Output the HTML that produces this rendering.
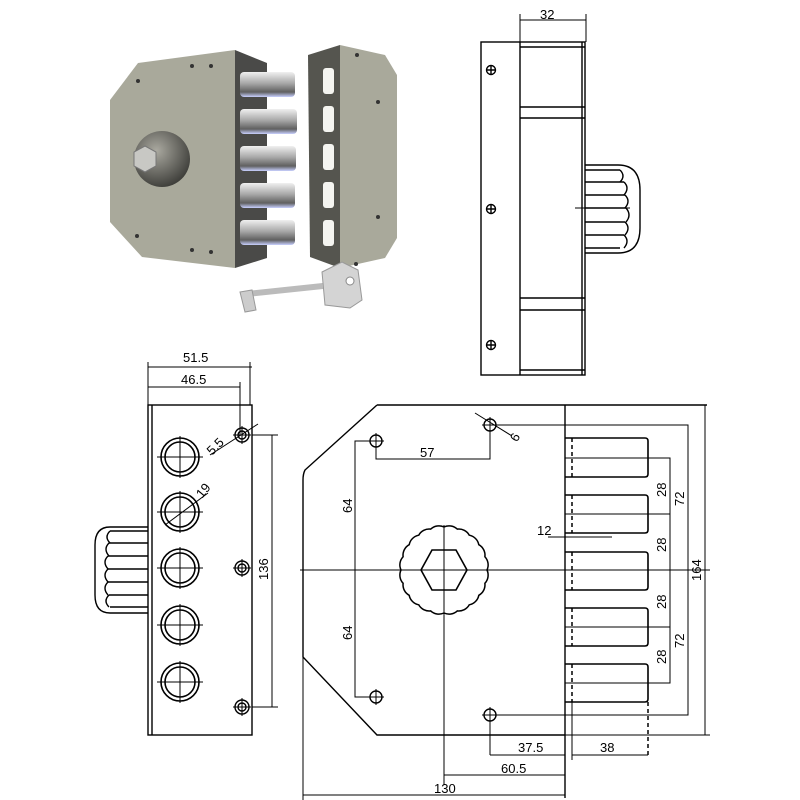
<!DOCTYPE html>
<html><head><meta charset="utf-8"><style>
html,body{margin:0;padding:0;background:#fff}
svg{display:block}
text{font-family:"Liberation Sans",sans-serif;font-size:13px;fill:#000}
</style></head><body>
<svg width="800" height="800" viewBox="0 0 800 800" xmlns="http://www.w3.org/2000/svg">
<defs>
<linearGradient id="bolt" x1="0" y1="0" x2="0" y2="1">
<stop offset="0" stop-color="#f0f0f0"/><stop offset="0.45" stop-color="#a8a8a8"/><stop offset="0.8" stop-color="#606060"/><stop offset="1" stop-color="#c8d0ff"/></linearGradient>
<radialGradient id="knob" cx="0.4" cy="0.35" r="0.7"><stop offset="0" stop-color="#aaa9a0"/><stop offset="1" stop-color="#3a3a36"/></radialGradient>
</defs>
<polygon points="110,100 138,63 235,50 235,268 142,257 110,222" fill="#a9a99b"/>
<polygon points="235,50 267,63 267,258 235,268" fill="#4a4a48"/>
<g fill="url(#bolt)">
<rect x="240" y="72" width="55" height="25" rx="4"/>
<rect x="240" y="109" width="57" height="25" rx="4"/>
<rect x="240" y="146" width="56" height="25" rx="4"/>
<rect x="240" y="183" width="55" height="25" rx="4"/>
<rect x="240" y="220" width="55" height="25" rx="4"/>
</g>
<circle cx="162" cy="159" r="28" fill="url(#knob)"/>
<polygon points="145,146 156,152 156,166 145,172 134,166 134,152" fill="#c8c8c4" stroke="#777"/>
<polygon points="308,55 340,45 340,268 310,257" fill="#55554f"/>
<polygon points="340,45 385,55 397,75 397,238 385,258 340,268" fill="#a9a99b"/>
<g fill="#f4f4f0"><rect x="323" y="68" width="11" height="26" rx="3"/><rect x="323" y="106" width="11" height="26" rx="3"/><rect x="323" y="144" width="11" height="26" rx="3"/><rect x="323" y="182" width="11" height="26" rx="3"/><rect x="323" y="220" width="11" height="26" rx="3"/></g>
<g fill="#333"><circle cx="138" cy="81" r="2"/><circle cx="192" cy="66" r="2"/><circle cx="211" cy="66" r="2"/><circle cx="137" cy="236" r="2"/><circle cx="192" cy="250" r="2"/><circle cx="211" cy="252" r="2"/><circle cx="357" cy="55" r="2"/><circle cx="378" cy="102" r="2"/><circle cx="378" cy="217" r="2"/><circle cx="356" cy="264" r="2"/></g>
<rect x="248" y="287" width="75" height="6" fill="#bbb" transform="rotate(-6 285 290)"/>
<polygon points="240,292 252,290 256,310 245,312" fill="#ccc" stroke="#999"/>
<polygon points="322,272 342,262 358,270 362,300 350,308 325,305" fill="#d4d4d4" stroke="#999"/>
<circle cx="350" cy="281" r="4" fill="#fff" stroke="#888"/>

<g fill="none" stroke="#000" stroke-width="1.4">
<rect x="481" y="42" width="104" height="333"/>
<line x1="520" y1="42" x2="520" y2="375"/>
<line x1="582" y1="42" x2="582" y2="375"/>
<line x1="520" y1="47" x2="585" y2="47"/><line x1="520" y1="107" x2="585" y2="107"/><line x1="520" y1="118" x2="585" y2="118"/>
<line x1="520" y1="298" x2="585" y2="298"/><line x1="520" y1="310" x2="585" y2="310"/><line x1="520" y1="370" x2="585" y2="370"/>
<path d="M585,165 H618 Q640,165 640,190 V228 Q640,253 618,253 H585"/>
<path d="M585,170 H620 M585,182 H624 M585,195 H625 M585,208 H626 M585,222 H625 M585,235 H624 M585,248 H620"/>
<path d="M620,170 q6,6 0,12 M624,182 q6,6 0,13 M625,195 q6,6 0,13 M626,208 q6,7 0,14 M625,222 q6,6 0,13 M624,235 q6,6 0,13"/>
<line x1="575" y1="208" x2="630" y2="208" stroke-width="1"/>
<circle cx="491" cy="70" r="4.5"/><circle cx="491" cy="209" r="4.5"/><circle cx="491" cy="345" r="4.5"/>
<path d="M486,70h10M491,65v10M486,209h10M491,204v10M486,345h10M491,340v10"/>
<line x1="520" y1="14" x2="520" y2="42" stroke-width="1"/><line x1="586" y1="14" x2="586" y2="42" stroke-width="1"/>
<line x1="520" y1="20" x2="586" y2="20" stroke-width="1"/>

<rect x="148" y="405" width="104" height="330"/>
<line x1="152" y1="405" x2="152" y2="735"/>
<line x1="148" y1="367" x2="252" y2="367" stroke-width="1"/><line x1="148" y1="387" x2="240" y2="387" stroke-width="1"/>
<line x1="148" y1="362" x2="148" y2="405" stroke-width="1"/><line x1="250" y1="362" x2="250" y2="405" stroke-width="1"/><line x1="240" y1="382" x2="240" y2="435" stroke-width="1"/>
<g stroke-width="1.6">
<circle cx="180" cy="457" r="19"/><circle cx="180" cy="457" r="15"/>
<circle cx="180" cy="512" r="19"/><circle cx="180" cy="512" r="15"/>
<circle cx="180" cy="568" r="19"/><circle cx="180" cy="568" r="15"/>
<circle cx="180" cy="625" r="19"/><circle cx="180" cy="625" r="15"/>
<circle cx="180" cy="682" r="19"/><circle cx="180" cy="682" r="15"/>
</g>
<path d="M157,457h46M180,436v42M157,512h46M180,491v42M157,568h46M180,547v42M157,625h46M180,604v42M157,682h46M180,661v42" stroke-width="1"/>
<line x1="165" y1="525" x2="208" y2="493" stroke-width="1"/>
<circle cx="242" cy="435" r="7"/><circle cx="242" cy="435" r="4"/>
<circle cx="242" cy="568" r="7"/><circle cx="242" cy="568" r="4"/>
<circle cx="242" cy="707" r="7"/><circle cx="242" cy="707" r="4"/>
<path d="M233,435h18M242,426v18M233,568h18M242,559v18M233,707h18M242,698v18" stroke-width="1"/>
<line x1="210" y1="455" x2="258" y2="424" stroke-width="1"/>
<line x1="252" y1="435" x2="278" y2="435" stroke-width="1"/><line x1="252" y1="707" x2="278" y2="707" stroke-width="1"/>
<line x1="272" y1="435" x2="272" y2="707" stroke-width="1"/>
<path d="M148,527 H110 Q95,527 95,545 V595 Q95,613 110,613 H148"/>
<path d="M110,531 H148 M109,543 H148 M108,556 H148 M108,569 H148 M108,582 H148 M109,595 H148 M110,607 H148"/>
<path d="M110,531 q-6,6 0,12 M109,543 q-6,6 0,13 M108,556 q-6,6 0,13 M108,569 q-6,6 0,13 M108,582 q-6,6 0,13 M109,595 q-6,6 0,12"/>

<path d="M377,405 H707 M565,405 V798 M377,405 L305,470 Q303,474 303,480 V657 L377,735 H565"/>
<line x1="300" y1="570" x2="710" y2="570" stroke-width="1"/>
<g stroke-width="1.6">
<path d="M565,438 H645 Q648,438 648,441 V474 Q648,477 645,477 H565"/>
<path d="M565,495 H645 Q648,495 648,498 V530 Q648,533 645,533 H565"/>
<path d="M565,552 H645 Q648,552 648,555 V587 Q648,590 645,590 H565"/>
<path d="M565,608 H645 Q648,608 648,611 V643 Q648,646 645,646 H565"/>
<path d="M565,664 H645 Q648,664 648,667 V699 Q648,702 645,702 H565"/>
</g>
<g stroke-dasharray="4,3" stroke-width="1.5"><line x1="572" y1="438" x2="572" y2="477"/><line x1="572" y1="495" x2="572" y2="533"/><line x1="572" y1="552" x2="572" y2="590"/><line x1="572" y1="608" x2="572" y2="646"/><line x1="572" y1="664" x2="572" y2="702"/><line x1="648" y1="702" x2="648" y2="755"/></g>
<path stroke-width="1.5" d="M487,570 A12,12 0 0 1 484.9,583.3 A12,12 0 0 1 478.8,595.3 A12,12 0 0 1 469.3,604.8 A12,12 0 0 1 457.3,610.9 A12,12 0 0 1 444,613 A12,12 0 0 1 430.7,610.9 A12,12 0 0 1 418.7,604.8 A12,12 0 0 1 409.2,595.3 A12,12 0 0 1 403.1,583.3 A12,12 0 0 1 401,570 A12,12 0 0 1 403.1,556.7 A12,12 0 0 1 409.2,544.7 A12,12 0 0 1 418.7,535.2 A12,12 0 0 1 430.7,529.1 A12,12 0 0 1 444,527 A12,12 0 0 1 457.3,529.1 A12,12 0 0 1 469.3,535.2 A12,12 0 0 1 478.8,544.7 A12,12 0 0 1 484.9,556.7 A12,12 0 0 1 487,570 Z"/>
<polygon points="432,550 456,550 467,570 456,590 432,590 421,570" stroke-width="1.6"/>
<line x1="444" y1="525" x2="444" y2="785" stroke-width="1"/>
<circle cx="376" cy="441" r="6"/><circle cx="376" cy="697" r="6"/><circle cx="490" cy="425" r="6"/><circle cx="490" cy="715" r="6"/>
<path d="M368,441h16M376,433v16M368,697h16M376,689v16M482,425h16M490,417v16M482,715h16M490,707v16" stroke-width="1"/>
<line x1="475" y1="413" x2="512" y2="436" stroke-width="1"/>
<g stroke-width="1">
<path d="M376,441 V459 H490 V425"/>
<path d="M376,441 H355 V697 H376"/>
<path d="M490,425 H688 V715 H490"/>
<path d="M565,458 H670 V683 H565 M565,514 H670 M565,570 H670 M565,627 H670"/>
<line x1="705" y1="405" x2="705" y2="735"/><line x1="565" y1="735" x2="710" y2="735"/>
<line x1="490" y1="715" x2="490" y2="755"/><line x1="490" y1="755" x2="565" y2="755"/>
<line x1="572" y1="755" x2="648" y2="755"/><line x1="572" y1="702" x2="572" y2="760"/>
<line x1="444" y1="775" x2="565" y2="775"/>
<line x1="303" y1="657" x2="303" y2="800"/><line x1="303" y1="795" x2="565" y2="795"/>
<line x1="548" y1="537" x2="612" y2="537"/>
</g>
</g>
<text x="540" y="19">32</text>
<text x="183" y="362">51.5</text>
<text x="181" y="384">46.5</text>
<text x="205" y="453" transform="rotate(-45 212 446)">5.5</text>
<text x="196" y="498" transform="rotate(-50 200 492)">19</text>
<text x="0" y="0" transform="translate(268,580) rotate(-90)">136</text>
<text x="420" y="457">57</text>
<text x="0" y="0" transform="translate(352,513) rotate(-90)">64</text>
<text x="0" y="0" transform="translate(352,640) rotate(-90)">64</text>
<text x="512" y="442" transform="rotate(-60 515 438)">6</text>
<text x="537" y="535">12</text>
<text x="0" y="0" transform="translate(666,497) rotate(-90)">28</text>
<text x="0" y="0" transform="translate(666,552) rotate(-90)">28</text>
<text x="0" y="0" transform="translate(666,609) rotate(-90)">28</text>
<text x="0" y="0" transform="translate(666,664) rotate(-90)">28</text>
<text x="0" y="0" transform="translate(684,506) rotate(-90)">72</text>
<text x="0" y="0" transform="translate(684,648) rotate(-90)">72</text>
<text x="0" y="0" transform="translate(701,581) rotate(-90)">164</text>
<text x="518" y="752">37.5</text>
<text x="600" y="752">38</text>
<text x="501" y="773">60.5</text>
<text x="434" y="793">130</text>
</svg>
</body></html>
